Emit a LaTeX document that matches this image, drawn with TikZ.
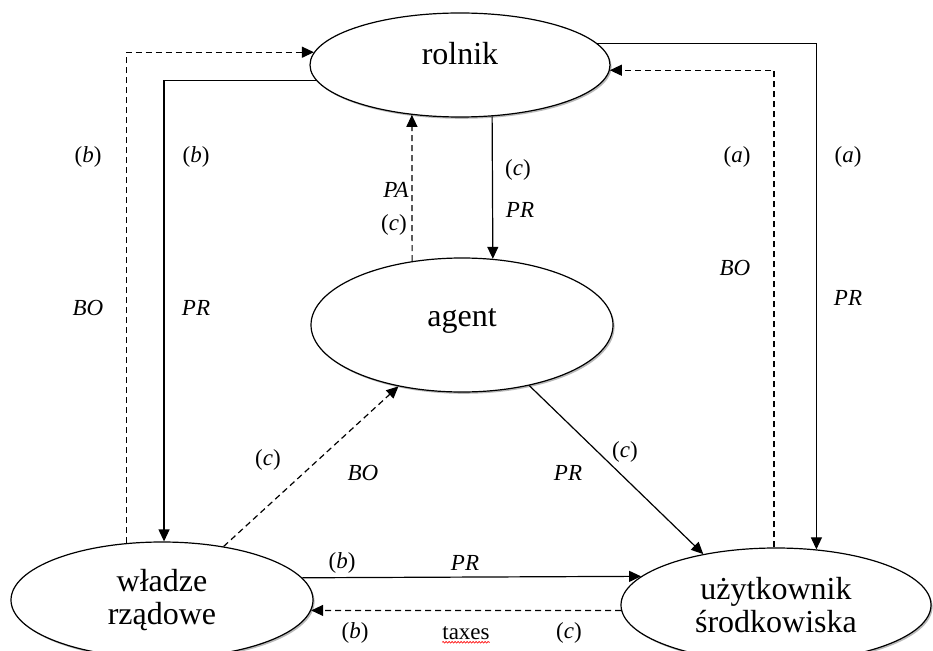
\documentclass[tikz,border=0pt]{standalone}
\usepackage{fontspec}
\setmainfont{Liberation Serif}
\usetikzlibrary{arrows.meta,shapes.geometric,shadows,decorations.pathmorphing}

\tikzset{
  actor/.style={ellipse, draw, line width=1.2pt, fill=white, inner sep=0pt,
    drop shadow={shadow xshift=1.6pt, shadow yshift=-1.8pt, fill=black!55},
    font=\fontsize{32}{33}\selectfont},
  flow/.style={line width=1.2pt, -{Triangle[length=12pt,width=11pt]}},
  back/.style={flow, dash pattern=on 6pt off 4pt},
  lbl/.style={font=\fontsize{23}{25}\selectfont, inner sep=0pt}
}

\begin{document}
\begin{tikzpicture}[x=1pt,y=-1pt]
  \useasboundingbox (0,0) rectangle (933,650);

  \node[actor, minimum width=300pt, minimum height=104pt, text depth=24pt] (rolnik) at (460,65) {rolnik};
  \node[actor, minimum width=302pt, minimum height=134pt, text depth=15pt] (agent) at (462,325) {agent};
  \node[actor, align=center, minimum width=302pt, minimum height=116pt] (wladze) at (162,600) {władze\\rządowe};
  \node[actor, align=center, minimum width=310pt, minimum height=114pt] (uzytk) at (776,605) {użytkownik\\środkowiska};

  % rolnik <-> uzytkownik
  \draw[flow] (rolnik.9) -| (uzytk.54);
  \draw[back] (uzytk.92) |- (rolnik.-2);
  % rolnik <-> wladze
  \draw[flow] (rolnik.186) -| (wladze.88);
  \draw[back] (wladze.122) |- (rolnik.175);
  % rolnik <-> agent
  \draw[flow] (rolnik.-58) -- (agent.65);
  \draw[back] (agent.128) -- (rolnik.-134);
  % agent, wladze, uzytkownik
  \draw[back] (wladze.41) -- (agent.-136);
  \draw[flow] (agent.-42) -- (uzytk.145);
  \draw[flow] (wladze.9) -- (uzytk.168);
  \draw[back] (uzytk.182) -- (wladze.-4);

  \node[lbl] (lb1) at (88,157) {(\textit{b})};
  \node[lbl] (lb2) at (88,308) {\textit{BO}};
  \node[lbl] (lb3) at (196,157) {(\textit{b})};
  \node[lbl] (lb4) at (196,308) {\textit{PR}};
  \node[lbl] (la1) at (737,157) {(\textit{a})};
  \node[lbl] (la2) at (735,268) {\textit{BO}};
  \node[lbl] (la3) at (848,157) {(\textit{a})};
  \node[lbl] (la4) at (848,298) {\textit{PR}};
  \node[lbl] (lc1) at (396,190) {\textit{PA}};
  \node[lbl] (lc2) at (394,225) {(\textit{c})};
  \node[lbl] (lc3) at (518,170) {(\textit{c})};
  \node[lbl] (lc4) at (520,210) {\textit{PR}};
  \node[lbl] (lc5) at (268,460) {(\textit{c})};
  \node[lbl] (lc6) at (363,473) {\textit{BO}};
  \node[lbl] (lc7) at (625,452) {(\textit{c})};
  \node[lbl] (lc8) at (568,473) {\textit{PR}};
  \node[lbl] (lb5) at (342,563) {(\textit{b})};
  \node[lbl] (lb6) at (465,563) {\textit{PR}};
  \node[lbl] (lb7) at (355,633) {(\textit{b})};
  \node[lbl] (tax) at (466,633) {taxes};
  \node[lbl] (lc9) at (569,633) {(\textit{c})};
  \draw[red, line width=0.6pt, decorate, decoration={snake, amplitude=0.8pt, segment length=3pt}]
    ([yshift=-2.5pt]tax.south west) -- ([yshift=-2.5pt]tax.south east);
\end{tikzpicture}
\end{document}
